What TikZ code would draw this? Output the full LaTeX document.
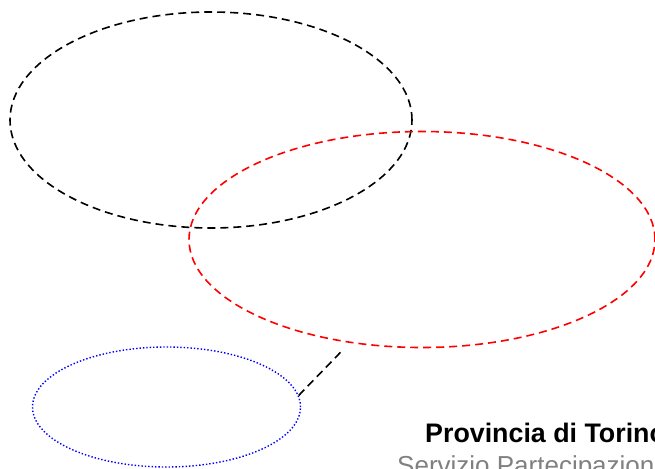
\documentclass[tikz,border=0pt]{standalone}
\usepackage{fontspec}
\setmainfont{Liberation Sans}
\usetikzlibrary{shapes.geometric}
\definecolor{txtgray}{HTML}{808080}
\tikzset{
  dashline/.style={line width=1.6pt, dash pattern=on 8pt off 5pt},
  ovalbox/.style={ellipse, inner sep=0pt, draw},
  titletext/.style={anchor=base west, inner sep=0pt, font=\fontsize{26.8}{30}\selectfont\bfseries},
  subtext/.style={anchor=base west, inner sep=0pt, font=\fontsize{26}{30}\selectfont, text=txtgray}
}
\begin{document}
\begin{tikzpicture}[x=1pt,y=-1pt]
\useasboundingbox (0,0) rectangle (655,468);
\clip (0,0) rectangle (655,468);
\node[ovalbox, dashline, black, minimum width=402pt, minimum height=216pt] (top) at (211,120) {};
\node[ovalbox, dashline, red, minimum width=466pt, minimum height=216pt] (mid) at (422,239.5) {};
\node[ovalbox, blue, line width=1.4pt, dash pattern=on 1.4pt off 2pt, minimum width=268pt, minimum height=120pt] (low) at (166.5,407) {};
\draw[dashline, black, shorten >=9pt] (low.5) -- (mid.-125);
\node[titletext] (prov) at (425,442) {Provincia di Torino};
\node[subtext] (serv) at (397,474) {Servizio Partecipazioni};
\end{tikzpicture}
\end{document}
